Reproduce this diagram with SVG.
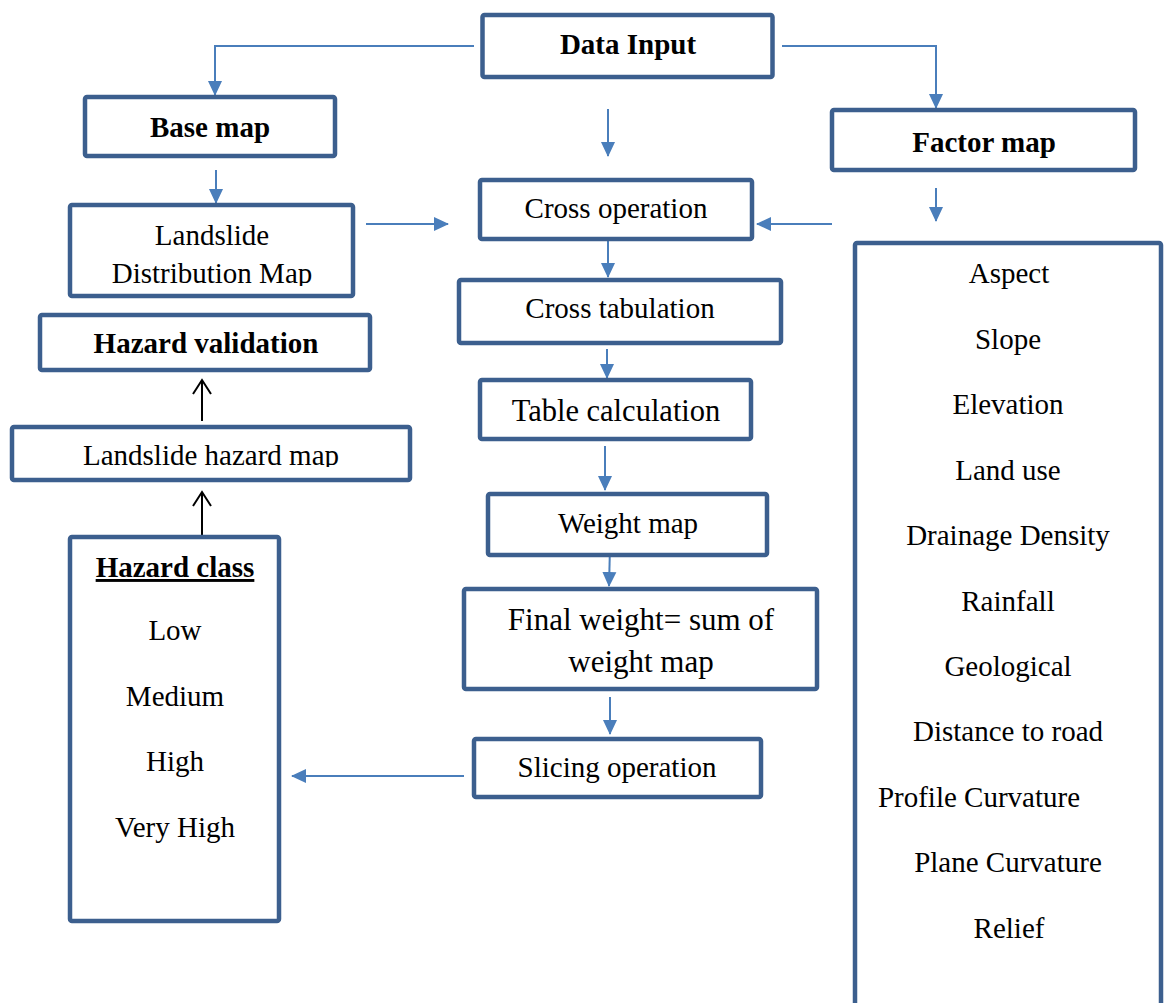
<svg xmlns="http://www.w3.org/2000/svg" width="1165" height="1003" viewBox="0 0 1165 1003">
<style>
.box{fill:#fff;stroke:#3C5F8E;stroke-width:4.5}
.t{font-family:"Liberation Serif","Times New Roman",serif;font-size:29px;fill:#000;text-anchor:middle}
.b{font-weight:bold}
.c{fill:none;stroke:#4A7EBB;stroke-width:2}
.k{fill:none;stroke:#000;stroke-width:2}
</style>
<defs>
<marker id="ah" markerUnits="userSpaceOnUse" markerWidth="16" markerHeight="16" viewBox="0 0 16 16" refX="14" refY="8" orient="auto">
<path d="M0,1 L15,8 L0,15 Z" fill="#4A7EBB"/>
</marker>
<clipPath id="clipLDM"><rect x="72" y="207" width="279" height="79"/></clipPath>
<clipPath id="clipLHM"><rect x="14" y="429" width="394" height="38"/></clipPath>
</defs>
<g id="connectors">
<polyline class="c" points="474,46 215,46 215,95" marker-end="url(#ah)"/>
<polyline class="c" points="782,46 936,46 936,108" marker-end="url(#ah)"/>
<line class="c" x1="608" y1="109" x2="608" y2="156" marker-end="url(#ah)"/>
<line class="c" x1="216" y1="170" x2="216" y2="203" marker-end="url(#ah)"/>
<line class="c" x1="936" y1="188" x2="936" y2="221" marker-end="url(#ah)"/>
<line class="c" x1="366" y1="224" x2="448" y2="224" marker-end="url(#ah)"/>
<line class="c" x1="832" y1="224" x2="757" y2="224" marker-end="url(#ah)"/>
<line class="c" x1="608" y1="241" x2="608" y2="277" marker-end="url(#ah)"/>
<line class="c" x1="607" y1="349" x2="607" y2="378" marker-end="url(#ah)"/>
<line class="c" x1="605" y1="446" x2="605" y2="490" marker-end="url(#ah)"/>
<line class="c" x1="610" y1="547" x2="609" y2="586" marker-end="url(#ah)"/>
<line class="c" x1="610" y1="697" x2="610" y2="734" marker-end="url(#ah)"/>
<line class="c" x1="464" y1="776" x2="292" y2="776" marker-end="url(#ah)"/>
<line class="k" x1="202" y1="421" x2="202" y2="380"/>
<polyline class="k" points="193,394 202,380 211,394"/>
<line class="k" x1="202" y1="536" x2="202" y2="492"/>
<polyline class="k" points="193,506 202,492 211,506"/>
</g>
<g id="data-input"><rect class="box" x="482.5" y="15" width="290" height="62" rx="2"/><text class="t b" x="628" y="54">Data Input</text></g>
<g id="base-map"><rect class="box" x="85" y="97" width="250" height="59" rx="2"/><text class="t b" x="210" y="137">Base map</text></g>
<g id="factor-map"><rect class="box" x="832" y="110" width="303" height="60" rx="2"/><text class="t b" x="984" y="152">Factor map</text></g>
<g id="cross-operation"><rect class="box" x="480" y="180" width="272" height="59" rx="2"/><text class="t" x="616" y="218">Cross operation</text></g>
<g id="landslide-distribution"><rect class="box" x="70" y="205" width="283" height="91" rx="2"/><g clip-path="url(#clipLDM)"><text class="t" x="212" y="245">Landslide</text><text class="t" x="212" y="283">Distribution Map</text></g></g>
<g id="cross-tabulation"><rect class="box" x="459" y="280" width="322" height="63" rx="2"/><text class="t" x="620" y="318">Cross tabulation</text></g>
<g id="hazard-validation"><rect class="box" x="40" y="315" width="330" height="55" rx="2"/><text class="t b" x="206" y="353">Hazard validation</text></g>
<g id="table-calculation"><rect class="box" x="480" y="380" width="271" height="59" rx="2"/><text class="t" x="616" y="421" style="font-size:30.5px">Table calculation</text></g>
<g id="landslide-hazard-map"><rect class="box" x="12" y="427" width="398" height="53" rx="2"/><g clip-path="url(#clipLHM)"><text class="t" x="211" y="465">Landslide hazard map</text></g></g>
<g id="weight-map"><rect class="box" x="488" y="494" width="279" height="61" rx="2"/><text class="t" x="628" y="533">Weight map</text></g>
<g id="final-weight"><rect class="box" x="464" y="589" width="353" height="100" rx="2"/><text class="t" x="641" y="630" style="font-size:31px">Final weight= sum of</text><text class="t" x="641" y="672" style="font-size:31px">weight map</text></g>
<g id="slicing-operation"><rect class="box" x="474" y="739" width="287" height="58" rx="2"/><text class="t" x="617" y="777">Slicing operation</text></g>
<g id="hazard-class"><rect class="box" x="70" y="537" width="209" height="384" rx="2"/>
<text class="t b" x="175" y="577" text-decoration="underline">Hazard class</text>
<text class="t" x="175" y="640">Low</text>
<text class="t" x="175" y="706">Medium</text>
<text class="t" x="175" y="771">High</text>
<text class="t" x="175" y="837">Very High</text>
</g>
<g id="factor-list"><rect class="box" x="855" y="243" width="306" height="790" rx="2"/>
<text class="t" x="1009" y="283">Aspect</text>
<text class="t" x="1008" y="349">Slope</text>
<text class="t" x="1008" y="414">Elevation</text>
<text class="t" x="1008" y="480">Land use</text>
<text class="t" x="1008" y="545">Drainage Density</text>
<text class="t" x="1008" y="611">Rainfall</text>
<text class="t" x="1008" y="676">Geological</text>
<text class="t" x="1008" y="741">Distance to road</text>
<text class="t" x="979" y="807">Profile Curvature</text>
<text class="t" x="1008" y="872">Plane Curvature</text>
<text class="t" x="1009" y="938">Relief</text>
</g>
</svg>
